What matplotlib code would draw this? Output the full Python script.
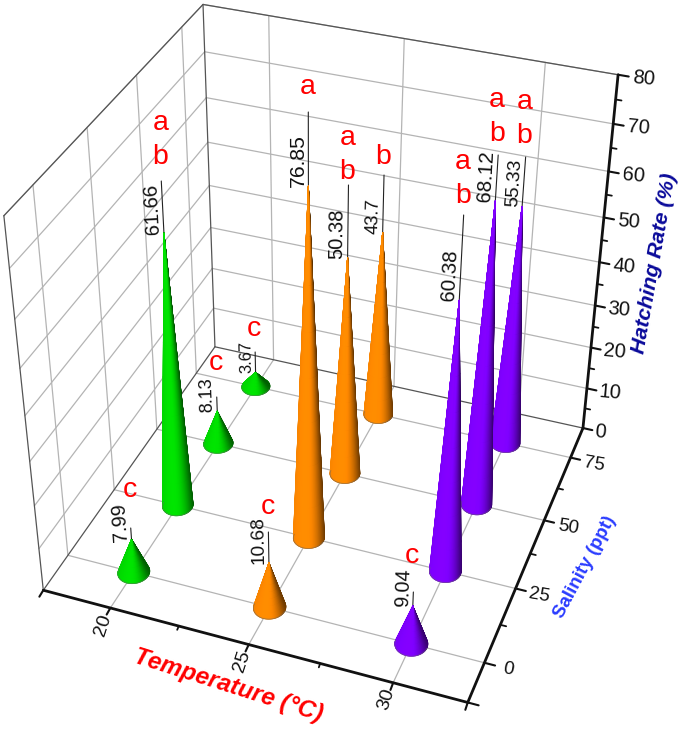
import numpy as np
import matplotlib
matplotlib.use("Agg")
import matplotlib.pyplot as plt
from mpl_toolkits.mplot3d import Axes3D  # noqa
from mpl_toolkits.mplot3d.art3d import Line3DCollection, Poly3DCollection

W, H = 685, 729
plt.rcParams['font.family'] = ['Liberation Sans', 'DejaVu Sans']

# ---------- data ----------
temperature = [20, 20, 20, 20, 25, 25, 25, 25, 30, 30, 30, 30]
salinity = [0, 25, 50, 75, 0, 25, 50, 75, 0, 25, 50, 75]
hatching = [7.99, 61.66, 8.13, 3.67, 10.68, 76.85, 50.38, 43.7, 9.04, 60.38, 68.12, 55.33]
letters = ['c', 'ab', 'c', 'c', 'c', 'a', 'ab', 'b', 'c', 'ab', 'ab', 'ab']
cone_colors = ['#00dc00'] * 4 + ['#ff8800'] * 4 + ['#7f00ff'] * 4
value_sizes = [14.3, 14.5, 13, 12, 13.8, 15.2, 14.5, 13.2, 14.2, 14.8, 14.8, 13.8]
leader_tops = [528, 181, 397, 352, 532, 112, 185, 175, 592, 215, 155, 157]
letter_gaps = [38, 24, 34, 23, 25, 25, 13, 18, 36, 19, 21, 21]

x_ticks = [20, 25, 30]
x_minor = [22.5, 27.5]
y_ticks = [0, 25, 50, 75]
y_minor = [12.5, 37.5, 62.5]
z_ticks = [0, 10, 20, 30, 40, 50, 60, 70, 80]
z_minor = [5, 15, 25, 35, 45, 55, 65, 75]
xlim = (17.5, 32.5)
ylim = (-12.5, 87.5)
zlim = (0, 80)

# ---------- camera fitted on the box corners and axis ticks ----------
x0, x1 = xlim; y0, y1 = ylim; z0, z1 = zlim
fit = [((x0, y0, 0), (44, 590)), ((x1, y0, 0), (470, 703)), ((x1, y1, 0), (583, 429)),
       ((x0, y1, 0), (215, 347)), ((x0, y0, 80), (4, 216)), ((x0, y1, 80), (203, 4)),
       ((x1, y1, 80), (618, 75)),
       ((20, y0, 0), (110, 608)), ((25, y0, 0), (248, 645)), ((30, y0, 0), (392, 683)),
       ((x1, 0, 0), (484, 662)), ((x1, 25, 0), (515, 588)), ((x1, 50, 0), (544, 520)),
       ((x1, 75, 0), (571, 457))]
rows = []
for (X, Y, Z), (u, v) in fit:
    v = H - v
    rows.append([X, Y, Z, 1, 0, 0, 0, 0, -u * X, -u * Y, -u * Z, -u])
    rows.append([0, 0, 0, 0, X, Y, Z, 1, -v * X, -v * Y, -v * Z, -v])
P = np.linalg.svd(np.array(rows, float))[2][-1].reshape(3, 4)
P /= P[2] @ np.array([25, 37.5, 0, 1])
M = np.vstack([P[0], P[1], [0, 0, 0, -1], P[2]])


def project(x, y, z):
    q = P @ np.stack([np.asarray(x, float), np.asarray(y, float), np.asarray(z, float),
                      np.ones_like(np.asarray(x, float))])
    return q[0] / q[2], q[1] / q[2]


def z_at_pixel(x, y, py):
    t = H - py
    a, b = P[1], P[2]
    return -((a[0] - t * b[0]) * x + (a[1] - t * b[1]) * y + a[3] - t * b[3]) / (a[2] - t * b[2])


fig = plt.figure(figsize=(W / 100, H / 100), dpi=100)
ax = fig.add_axes([0, 0, 1, 1], projection='3d', computed_zorder=False)
ax.apply_aspect = lambda position=None: None
ax.get_proj = lambda: M
ax.set_axis_off()
ax.patch.set_alpha(0)
ax.viewLim.intervalx = (0, W)
ax.viewLim.intervaly = (0, H)


def seg(a, b, color='#b4b4b4', lw=0.9, z=1):
    col = Line3DCollection([[a, b]], colors=color, linewidths=lw, zorder=z, capstyle='round')
    ax.add_collection3d(col, autolim=False)


# ---------- grid ----------
for yt in y_ticks:
    seg((x0, yt, 0), (x1, yt, 0))
    seg((x0, yt, 0), (x0, yt, 80))
for xt in x_ticks:
    seg((xt, y0, 0), (xt, y1, 0))
    seg((xt, y1, 0), (xt, y1, 80))
for zt in z_ticks[1:]:
    seg((x0, y0, zt), (x0, y1, zt))
    seg((x0, y1, zt), (x1, y1, zt))
# thin frame
frame = '#555555'
for a, b in [((x0, y0, 0), (x0, y0, 80)), ((x0, y0, 80), (x0, y1, 80)), ((x0, y1, 80), (x1, y1, 80)),
             ((x0, y1, 0), (x0, y1, 80)), ((x0, y0, 0), (x0, y1, 0)), ((x0, y1, 0), (x1, y1, 0))]:
    seg(a, b, color=frame, lw=0.9, z=1.5)

# ---------- axes ----------
k = '#111111'
seg((x0, y0, 0), (x1, y0, 0), color=k, lw=2, z=2)
seg((x1, y0, 0), (x1, y1, 0), color=k, lw=2, z=2)
seg((x1, y1, 0), (x1, y1, 80), color=k, lw=2, z=2)
for xt in x_ticks + list(xlim):
    seg((xt, y0, 0), (xt + 0.02, y0 - 2.2, 0), color=k, lw=1.5, z=2)
for xt in x_minor:
    seg((xt, y0, 0), (xt + 0.02, y0 - 1.2, 0), color=k, lw=1.3, z=2)
for yt in y_ticks + [y0]:
    seg((x1, yt, 0), (x1 + 0.36, yt, 0), color=k, lw=1.5, z=2)
for yt in y_minor:
    seg((x1, yt, 0), (x1 + 0.2, yt, 0), color=k, lw=1.3, z=2)
for zt in z_ticks:
    seg((x1, y1, zt), (x1 + 0.36, y1, zt), color=k, lw=1.5, z=2)
for zt in z_minor:
    seg((x1, y1, zt), (x1 + 0.2, y1, zt), color=k, lw=1.3, z=2)


def label(px, py, s, **kw):
    kw.setdefault('zorder', 1000)
    kw.setdefault('rotation_mode', 'anchor')
    ax.text2D(px / W, py / H, s, transform=ax.transAxes, **kw)


for xt in x_ticks:
    px, py = project(xt, y0, 0)
    label(px - 7, py - 17, str(xt), rotation=72, ha='center', va='center', fontsize=14, color='#111111')
for yt in y_ticks:
    px, py = project(x1, yt, 0)
    label(px + 24, py - 7, str(yt), rotation=-10, ha='center', va='center', fontsize=13.5, color='#111111')
for zt in z_ticks:
    px, py = project(x1, y1, zt)
    label(px + 15 - 0.4 * (8 - zt / 10), py - 3, str(zt), rotation=-5, ha='left', va='center',
          fontsize=14.5, color='#111111')

label(228, H - 686, 'Temperature (°C)', rotation=-17.5, ha='center', va='center', fontsize=17.5,
      color='#ff0000', fontweight='bold', fontstyle='italic')
label(585, H - 567, 'Salinity (ppt)', rotation=62, ha='center', va='center', fontsize=13.5,
      color='#2a3cff', fontweight='bold')
label(655, H - 263, 'Hatching Rate (%)', rotation=80, ha='center', va='center', fontsize=15.4,
      color='#0a0a9a', fontweight='bold', fontstyle='italic')

# ---------- cones, far ones first ----------
rx, ry = 0.54, 3.8
theta = np.linspace(0, 2 * np.pi, 121)
frac = np.linspace(0, 1, 9)
order = np.argsort([(P[2] @ np.array([T, S, 0, 1])) for T, S in zip(temperature, salinity)])[::-1]
ranks = {i: n for n, i in enumerate(order)}

for i, (T, S, v, col, top, fs, let, gap) in enumerate(zip(temperature, salinity, hatching, cone_colors,
                                                          leader_tops, value_sizes, letters, letter_gaps)):
    base = np.array(matplotlib.colors.to_rgb(col))
    halfw = np.ptp(project(T + rx * np.cos(theta), S + ry * np.sin(theta), 0 * theta)[0]) / 2
    verts, cols = [], []
    for j in range(len(frac) - 1):
        for m in range(len(theta) - 1):
            t = np.array([frac[j], frac[j], frac[j + 1], frac[j + 1]])
            th = np.array([theta[m], theta[m + 1], theta[m + 1], theta[m]])
            qx = T + rx * (1 - t) * np.cos(th)
            qy = S + ry * (1 - t) * np.sin(th)
            qz = v * t
            sx, sy = project(qx, qy, qz)
            area = 0.5 * np.sum(sx * np.roll(sy, -1) - np.roll(sx, -1) * sy)
            if area <= 0:   # this face looks away from the viewer
                continue
            ax_px, _ = project(T, S, v * t.mean())
            u = (sx.mean() - ax_px) / max(halfw * (1 - t.mean()), 1e-6)
            shade = 1.04 - 0.10 * (u + 0.2) ** 2 if u < -0.2 else 1.04 - 0.42 * (u + 0.2) ** 2
            c = np.clip(base * shade, 0, 1)
            if base[1] > 0.7:
                c[0] = 0
            verts.append(list(zip(qx, qy, qz)))
            cols.append(c)
    poly = Poly3DCollection(verts, facecolors=cols, edgecolors=cols, linewidths=0.6,
                            zorder=10 + ranks[i], antialiaseds=True)
    ax.add_collection3d(poly, autolim=False)
    # thin grey rim along the visible side of the base
    th = np.linspace(np.pi, 2 * np.pi, 60)
    rim = np.c_[T + rx * np.cos(th), S + ry * np.sin(th), 0 * th]
    ax.add_collection3d(Line3DCollection([rim], colors='#666666', linewidths=0.5, alpha=0.7,
                                         zorder=10.5 + ranks[i]), autolim=False)

    ztop = z_at_pixel(T, S, top)
    seg((T, S, v), (T, S, ztop), color='#222222', lw=0.8, z=3)
    ax_, ay_ = project(T, S, v)
    bx_, by_ = project(T, S, v + 10)
    ang = np.degrees(np.arctan2(by_ - ay_, bx_ - ax_))
    label(float(ax_) - 1, float(ay_) - 1, f'{v:g}', rotation=ang, ha='left', va='bottom',
          fontsize=fs, color='#111111')

    # significance letters, stacked above the top of the leader
    tx, ty = project(T, S, ztop)
    yy = float(ty) + gap
    for ch in reversed(let):
        label(float(tx) - 1, yy, ch, ha='center', va='center', fontsize=20.5, color='#ff0000')
        yy += 34

fig.savefig('out.png', dpi=100)
